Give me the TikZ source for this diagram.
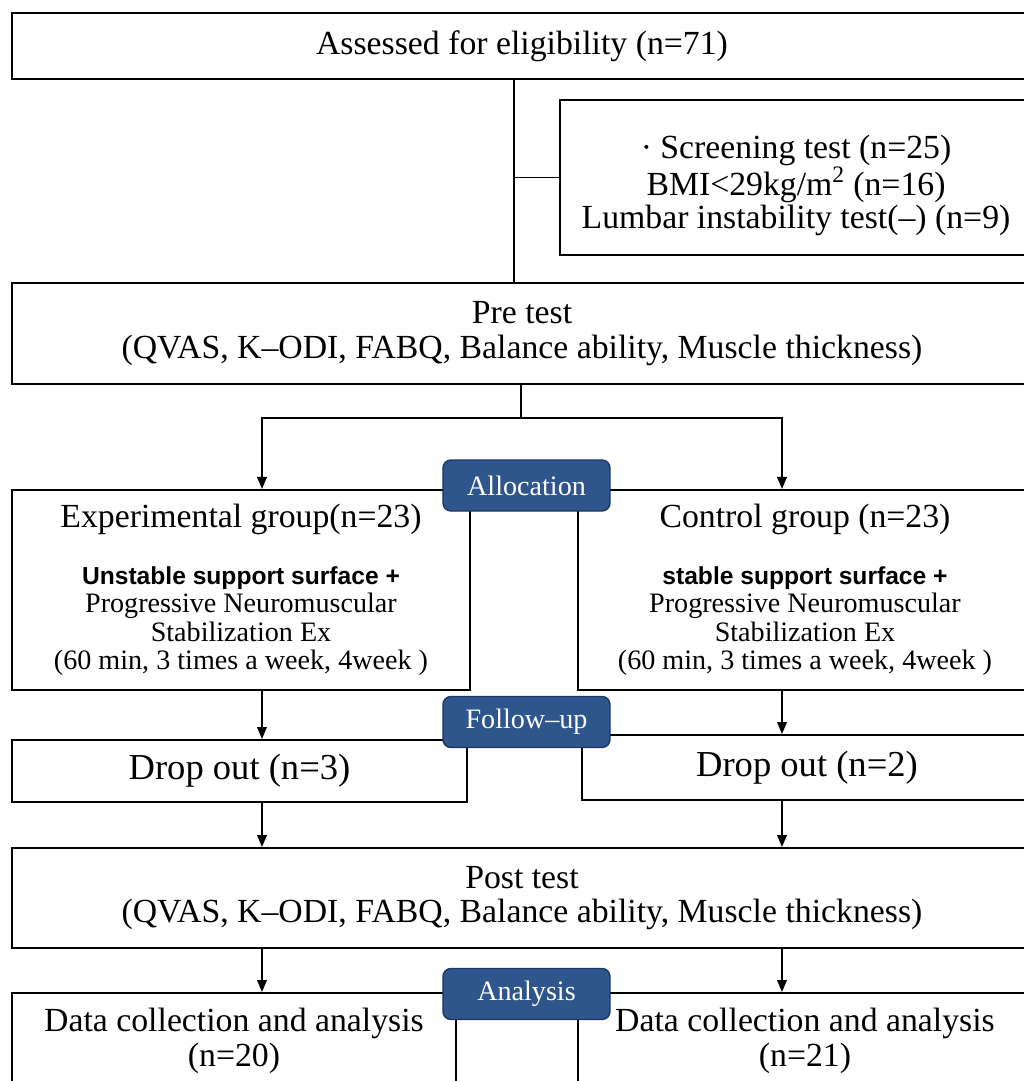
\documentclass[tikz,border=0pt]{standalone}
\usepackage{fontspec}
\setmainfont{Liberation Serif}
\setsansfont{Liberation Sans}
\usepackage{tikz}
\usetikzlibrary{positioning,arrows.meta}
\tikzstyle{chart} = [x = .025cm, y = -.025cm]
\definecolor{stageColor}{RGB}{46,86,140}
\definecolor{stageBorder}{RGB}{28,56,98}
\tikzstyle{boxStyle} = [draw=black, fill=white, line width=1.4pt, align=center, inner sep=0pt, font=\fontsize{24}{24.5}\selectfont]
\tikzstyle{groupText} = [font=\fontsize{20}{20.2}\selectfont]
\tikzstyle{dropText} = [font=\fontsize{26}{26}\selectfont]
\tikzstyle{stageStyle} = [draw=stageBorder, fill=stageColor, line width=1pt, rounded corners=.2cm, text=white, minimum width=4.175cm, minimum height=1.275cm, inner sep=0pt, font=\fontsize{20}{24}\selectfont]
\tikzstyle{lineStyle} = [line width=1.4pt]
\tikzstyle{arrowStyle} = [lineStyle, -{Triangle[length=.3cm, width=.24cm]}]
\newcommand{\boldLine}[1]{{\sffamily\bfseries\fontsize{17.5}{20}\selectfont #1}}
\newcommand{\headLine}[1]{{\fontsize{24}{20}\selectfont #1}}
\newcommand{\stageBox}[3]{\node [stageStyle] (#1) at (526.5, #2) {#3};}

\begin{document}
\begin{tikzpicture}[chart]
  \useasboundingbox (0,0) rectangle (1024,1081);
  \clip (0,0) rectangle (1024,1081);

  % boxes
  \node [boxStyle, minimum width=25.5cm, minimum height=1.65cm] (assess) at (522, 46) {Assessed for eligibility (n=71)};
  \node [boxStyle, minimum width=11.8cm, minimum height=3.875cm] (screen) at (796, 177.5) {};
  \node [align=center, font=\fontsize{24}{23.5}\selectfont] (screenText) at (796, 185) {\textperiodcentered\ Screening test (n=25)\\BMI<29kg/m\textsuperscript{2} (n=16)\\Lumbar instability test(–) (n=9)};
  \node [boxStyle, minimum width=25.5cm, minimum height=2.525cm] (pre) at (522, 333.5) {Pre test\\(QVAS, K–ODI, FABQ, Balance ability, Muscle thickness)};
  \node [boxStyle, groupText, minimum width=11.45cm, minimum height=5cm] (exp) at (241, 590) {\headLine{Experimental group(n=23)}\\[20pt]\boldLine{Unstable support surface +}\\Progressive Neuromuscular\\Stabilization Ex\\(60 min, 3 times a week, 4week )};
  \node [boxStyle, groupText, minimum width=11.35cm, minimum height=5cm] (ctrl) at (805, 590) {\headLine{Control group (n=23)}\\[20pt]\boldLine{stable support surface +}\\Progressive Neuromuscular\\Stabilization Ex\\(60 min, 3 times a week, 4week )};
  \node [boxStyle, dropText, minimum width=11.375cm, minimum height=1.55cm] (dropL) at (239.5, 771) {Drop out (n=3)};
  \node [boxStyle, dropText, minimum width=11.25cm, minimum height=1.625cm] (dropR) at (807, 767.5) {Drop out (n=2)};
  \node [boxStyle, minimum width=25.5cm, minimum height=2.5cm] (post) at (522, 898) {Post test\\(QVAS, K–ODI, FABQ, Balance ability, Muscle thickness)};
  \node [boxStyle, minimum width=11.1cm, minimum height=2.4cm] (dataL) at (234, 1041) {Data collection and analysis\\(n=20)};
  \node [boxStyle, minimum width=11.35cm, minimum height=2.4cm] (dataR) at (805, 1041) {Data collection and analysis\\(n=21)};

  % connectors
  \coordinate (spine) at (514, 177.5);
  \coordinate (split) at (521, 418);
  \coordinate (leftCol) at (262, 0);
  \coordinate (rightCol) at (782, 0);
  \draw [lineStyle] (assess.south -| spine) -- (pre.north -| spine);
  \draw [lineStyle] (spine) -- (screen.west);
  \draw [lineStyle] (pre.south -| split) -- (split);
  \draw [arrowStyle] (split) -| (exp.north -| leftCol);
  \draw [arrowStyle] (split) -| (ctrl.north -| rightCol);
  \draw [arrowStyle] (exp.south -| leftCol) -- (dropL.north -| leftCol);
  \draw [arrowStyle] (ctrl.south -| rightCol) -- (dropR.north -| rightCol);
  \draw [arrowStyle] (dropL.south -| leftCol) -- (post.north -| leftCol);
  \draw [arrowStyle] (dropR.south -| rightCol) -- (post.north -| rightCol);
  \draw [arrowStyle] (post.south -| leftCol) -- (dataL.north -| leftCol);
  \draw [arrowStyle] (post.south -| rightCol) -- (dataR.north -| rightCol);

  % stages
  \stageBox{alloc}{485.5}{Allocation}
  \stageBox{follow}{722}{Follow–up}
  \stageBox{analysis}{994}{Analysis}
\end{tikzpicture}
\end{document}
